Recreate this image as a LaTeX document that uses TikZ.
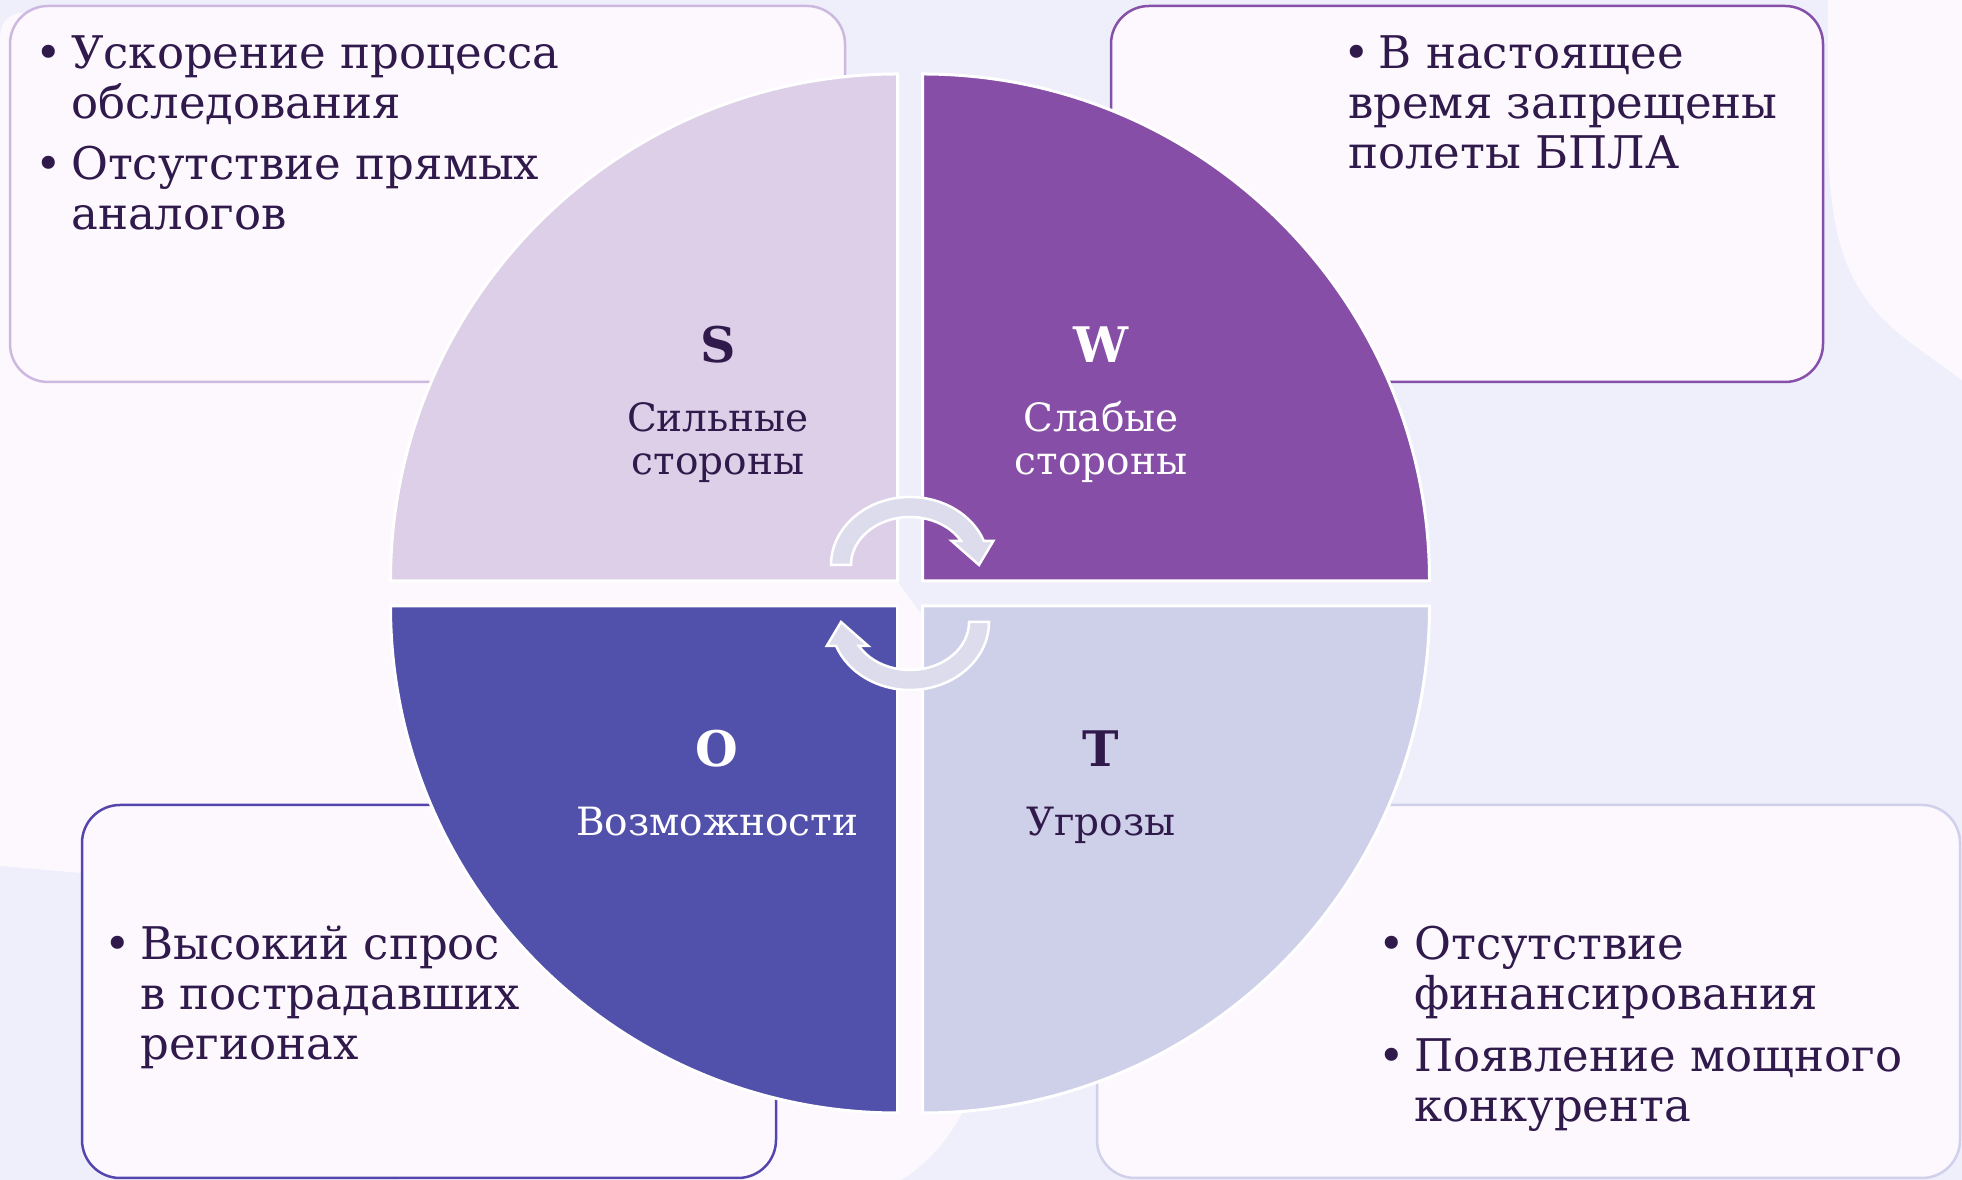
\documentclass[tikz,border=0pt]{standalone}
\usepackage{fontspec}
\setmainfont{DejaVu Serif}
\definecolor{bglav}{HTML}{EFEFFC}
\definecolor{bgpink}{HTML}{FDF8FD}
\definecolor{boxfill}{HTML}{FCF8FE}
\definecolor{txt}{HTML}{30194B}
\definecolor{qS}{HTML}{DDCFE7}
\definecolor{qW}{HTML}{864EA6}
\definecolor{qO}{HTML}{5150AA}
\definecolor{qT}{HTML}{CECFE8}
\definecolor{bS}{HTML}{CDB9DF}
\definecolor{bW}{HTML}{8650A8}
\definecolor{bO}{HTML}{5446AC}
\definecolor{bT}{HTML}{D0D0EA}
\definecolor{arr}{HTML}{DCDCEC}
\newcommand\bulmark{\makebox[30pt][l]{\hspace*{-6pt}•}}
\newcommand\hangit{\hangindent=30pt\hangafter=1 }
\begin{document}
\begin{tikzpicture}[x=1pt,y=1pt,
  infobox/.style={draw, fill=boxfill, line width=2.5pt, rounded corners=38pt, inner sep=0pt},
  quad/.style={draw=white, line width=3pt},
  cyc/.style={fill=arr, draw=white, line width=2.5pt, line join=miter},
  lbl/.style={inner sep=0pt, anchor=base, font=\fontsize{39}{43}\selectfont},
  letr/.style={inner sep=0pt, anchor=base, font=\fontsize{49}{50}\selectfont\bfseries},
  bullist/.style={inner sep=0pt, anchor=base west, text=txt, font=\fontsize{45}{50}\selectfont}]
\useasboundingbox (0,0) rectangle (1962,1180);
% background
\fill[bglav] (0,0) rectangle (1962,1180);
\fill[bgpink] (0,1140) .. controls (0,1160) and (10,1168) .. (30,1168) -- (700,1150)
  .. controls (800,1140) and (850,1100) .. (850,1062) -- (897,599) -- (922,565) -- (962,67)
  .. controls (945,35) and (925,15) .. (901,0) -- (400,0)
  .. controls (300,150) and (150,300) .. (82,307) -- (0,314) -- cycle;
\fill[bgpink] (1828,1180) -- (1828,1040) .. controls (1830,880) and (1880,860) .. (1962,800) -- (1962,1180) -- cycle;
% boxes
\node[infobox, draw=bS, minimum width=835pt, minimum height=376pt] (boxS) at (427.5,986) {};
\node[infobox, draw=bW, minimum width=712pt, minimum height=376pt] (boxW) at (1467,986) {};
\node[infobox, draw=bO, minimum width=694pt, minimum height=373pt] (boxO) at (429,188.5) {};
\node[infobox, draw=bT, minimum width=863pt, minimum height=373pt] (boxT) at (1528.5,188.5) {};
% quadrants
\path[quad, fill=qS] (897.5,599) -- (390.5,599) arc[start angle=180, end angle=90, radius=507pt] -- cycle;
\path[quad, fill=qW] (922.5,599) -- (922.5,1106) arc[start angle=90, end angle=0, radius=507pt] -- cycle;
\path[quad, fill=qO] (897.5,574) -- (897.5,67) arc[start angle=270, end angle=180, radius=507pt] -- cycle;
\path[quad, fill=qT] (922.5,574) -- (1429.5,574) arc[start angle=0, end angle=-90, radius=507pt] -- cycle;
% cycle arrows
\begin{scope}[shift={(910,615)}]
\path[cyc] (-79,0) arc[start angle=180, end angle=20.67, x radius=79pt, y radius=68pt]
  -- (83.3,24) -- (69,0) -- (41.7,24) -- (51.1,24)
  arc[start angle=30, end angle=180, x radius=59pt, y radius=48pt] -- cycle;
\end{scope}
\begin{scope}[shift={(910,558)}]
\path[cyc] (79,0) arc[start angle=0, end angle=-159.33, x radius=79pt, y radius=68pt]
  -- (-83.3,-24) -- (-69,0) -- (-41.7,-24) -- (-51.1,-24)
  arc[start angle=-150, end angle=0, x radius=59pt, y radius=48pt] -- cycle;
\end{scope}
% quadrant labels
\node[letr, text=txt] (kS) at (718,817) {S};
\node[lbl, text=txt] (lS) at (718,748) {\parbox[t]{300pt}{\centering Сильные\\стороны}};
\node[letr, text=white] (kW) at (1101,817) {W};
\node[lbl, text=white] (lW) at (1101,748) {\parbox[t]{300pt}{\centering Слабые\\стороны}};
\node[letr, text=white] (kO) at (717,413) {O};
\node[lbl, text=white] (lO) at (717,344) {Возможности};
\node[letr, text=txt] (kT) at (1101,413) {T};
\node[lbl, text=txt] (lT) at (1101,344) {Угрозы};
% box texts
\node[bullist] (tS) at (41,1111) {\parbox[t]{780pt}{\raggedright\parskip=11pt
  \hangit\bulmark Ускорение процесса\newline обследования\par
  \hangit\bulmark Отсутствие прямых\newline аналогов}};
\node[bullist] (tW) at (1348,1111) {\parbox[t]{460pt}{\raggedright \hspace*{-5pt}•\hspace{9pt}В настоящее\newline время запрещены\newline полеты БПЛА}};
\node[bullist] (tO) at (110,220) {\parbox[t]{650pt}{\raggedright
  \hangit\bulmark Высокий спрос\newline в пострадавших\newline регионах}};
\node[bullist] (tT) at (1384,220) {\parbox[t]{570pt}{\raggedright\parskip=12pt
  \hangit\bulmark Отсутствие\newline финансирования\par
  \hangit\bulmark Появление мощного\newline конкурента}};
\end{tikzpicture}
\end{document}
